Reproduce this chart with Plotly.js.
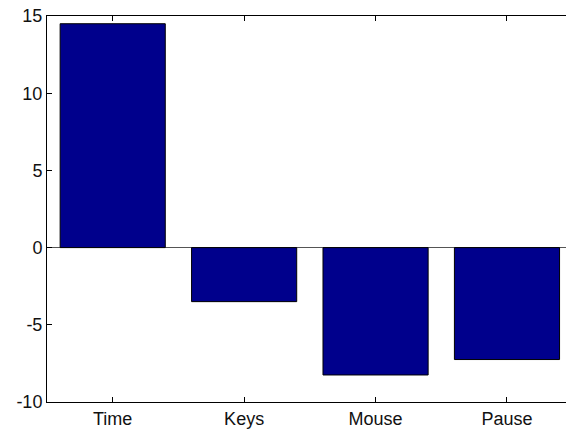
<!DOCTYPE html>
<html>
<head>
<meta charset="utf-8">
<script src="https://cdn.plot.ly/plotly-3.0.1.min.js"></script>
<style>
  html, body { margin: 0; padding: 0; background: #fff; }
  #chart { width: 566px; height: 432px; }
</style>
</head>
<body>
<div id="chart"></div>
<script>
// Category labels and bar values
const categories = ["Time", "Keys", "Mouse", "Pause"];
const values = [14.5, -3.5, -8.25, -7.25];
const yTicks = [-10, -5, 0, 5, 10, 15];

const positions = categories.map((_, i) => i + 1);

const trace = {
  type: "bar",
  x: positions,
  y: values,
  width: 0.8,
  marker: { color: "#00008c", line: { color: "#000000", width: 1 } },
  hoverinfo: "x+y"
};

const font = { family: "Liberation Sans, Arial, sans-serif", size: 18, color: "#111" };

const layout = {
  width: 566,
  height: 432,
  margin: { l: 47, r: 0, t: 16, b: 30, pad: 0 },
  paper_bgcolor: "#ffffff",
  plot_bgcolor: "#ffffff",
  showlegend: false,
  font: font,
  xaxis: {
    range: [0.5, 4.449],
    tickmode: "array",
    tickvals: positions,
    ticktext: categories,
    ticks: "inside",
    ticklen: 5,
    tickcolor: "#000",
    showline: true,
    linecolor: "#000",
    linewidth: 1,
    mirror: "ticks",
    showgrid: false,
    zeroline: false,
    tickfont: font
  },
  yaxis: {
    range: [-10, 15],
    tickmode: "array",
    tickvals: yTicks,
    // plain hyphen for negative labels
    ticktext: yTicks.map(String),
    ticks: "inside",
    ticklen: 5,
    tickcolor: "#000",
    showline: true,
    linecolor: "#000",
    linewidth: 1,
    showgrid: false,
    zeroline: true,
    zerolinecolor: "#555",
    zerolinewidth: 1,
    tickfont: font
  }
};

Plotly.newPlot("chart", [trace], layout, { displayModeBar: false, staticPlot: true });
</script>
</body>
</html>
